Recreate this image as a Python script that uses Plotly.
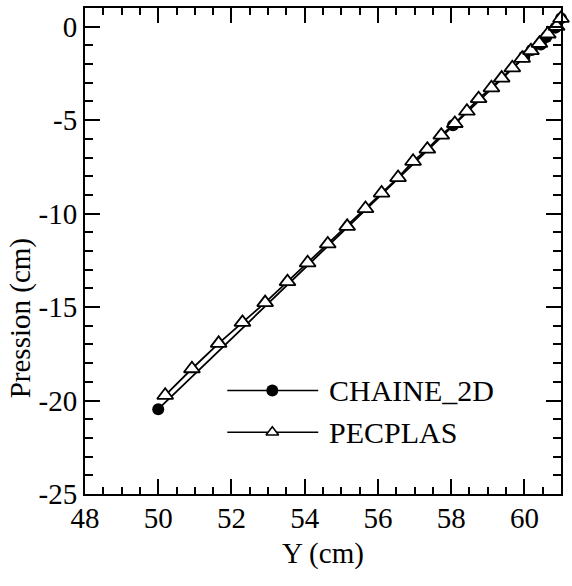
import plotly.graph_objects as go

# Pressure profile along Y: two codes compared
chaine_y = [50.0, 58.05, 60.0, 60.2, 60.45, 60.6, 60.85, 61.0]
chaine_p = [-20.46, -5.27, -1.6, -1.25, -0.95, -0.55, -0.05, 0.45]

pecplas_y = [50.19, 50.92, 51.65, 52.30, 52.92, 53.53, 54.08, 54.63, 55.16,
             55.66, 56.10, 56.55, 56.96, 57.35, 57.73, 58.10, 58.43, 58.75,
             59.10, 59.38, 59.67, 59.94, 60.18, 60.41, 60.64, 60.88, 61.0]
pecplas_p = [-19.72, -18.30, -16.94, -15.82, -14.76, -13.64, -12.63, -11.62,
             -10.68, -9.73, -8.90, -8.07, -7.20, -6.55, -5.80, -5.18, -4.52,
             -3.85, -3.27, -2.75, -2.20, -1.69, -1.28, -0.89, -0.39, 0.02, 0.45]

x_ticks = [48, 50, 52, 54, 56, 58, 60]
x_labels = ["48", "50", "52", "54", "56", "58", "60"]
y_ticks = [0, -5, -10, -15, -20, -25]
y_labels = ["0", "-5", "-10", "-15", "-20", "-25"]

FONT = "Liberation Serif"
FS = 29

fig = go.Figure()

fig.add_trace(go.Scatter(
    x=chaine_y, y=chaine_p, mode="lines+markers", name="CHAINE_2D",
    line=dict(color="black", width=1.8),
    marker=dict(symbol="circle", size=12, color="black"),
    showlegend=False, cliponaxis=False,
))
fig.add_trace(go.Scatter(
    x=pecplas_y, y=pecplas_p, mode="lines+markers", name="PECPLAS",
    line=dict(color="black", width=1.8),
    marker=dict(symbol="triangle-up", size=14, color="white",
                line=dict(color="black", width=1.8)),
    showlegend=False, cliponaxis=False,
))

# Legend keys drawn on an overlay axis spanning the plot area (0..1)
legend_rows = [("CHAINE_2D", 0.213, dict(symbol="circle", size=12, color="black")),
               ("PECPLAS", 0.127, dict(symbol="triangle-up", size=11, color="white",
                                       line=dict(color="black", width=1.6)))]
for label, ypos, mk in legend_rows:
    fig.add_trace(go.Scatter(
        x=[0.299, 0.490], y=[ypos, ypos], mode="lines",
        line=dict(color="black", width=1.5),
        xaxis="x2", yaxis="y2", showlegend=False, hoverinfo="skip",
    ))
    fig.add_trace(go.Scatter(
        x=[0.3935], y=[ypos], mode="markers", marker=mk,
        xaxis="x2", yaxis="y2", showlegend=False, hoverinfo="skip",
    ))
    fig.add_annotation(
        x=0.509, y=ypos, xref="x2", yref="y2", text=label, showarrow=False,
        xanchor="left", yanchor="middle",
        font=dict(family=FONT, size=30, color="black"),
    )

axis_common = dict(
    showgrid=False, zeroline=False, showline=True, linecolor="black",
    linewidth=2, mirror="ticks", ticks="inside", ticklen=15, tickwidth=1.5,
    tickcolor="black", tickfont=dict(family=FONT, size=FS, color="black"),
)

fig.update_layout(
    width=572, height=586,
    margin=dict(l=84.5, r=11, t=6, b=92),
    paper_bgcolor="white", plot_bgcolor="white",
    xaxis=dict(range=[48, 61], tickvals=x_ticks, ticktext=x_labels,
               minor=dict(ticks="inside", ticklen=7, dtick=0.5, tickwidth=1.5,
                          tickcolor="black"),
               ticklabelstandoff=-3,
               **axis_common),
    yaxis=dict(range=[-25, 1], tickvals=y_ticks, ticktext=y_labels,
               minor=dict(ticks="inside", ticklen=8, dtick=1, tickwidth=1.5,
                          tickcolor="black"),
               ticklabelstandoff=0,
               **axis_common),
    xaxis2=dict(range=[0, 1], overlaying="x", visible=False, fixedrange=True),
    yaxis2=dict(range=[0, 1], overlaying="y", visible=False, fixedrange=True),
    showlegend=False,
)

fig.add_annotation(
    x=0.5, y=-0.122, xref="paper", yref="paper", text="Y (cm)",
    showarrow=False, xanchor="center", yanchor="middle",
    font=dict(family=FONT, size=FS, color="black"),
)
fig.add_annotation(
    x=-0.135, y=0.361, xref="paper", yref="paper", text="Pression (cm)",
    showarrow=False, textangle=-90, xanchor="center", yanchor="middle",
    font=dict(family=FONT, size=FS, color="black"),
)

fig.write_html("out.html")
